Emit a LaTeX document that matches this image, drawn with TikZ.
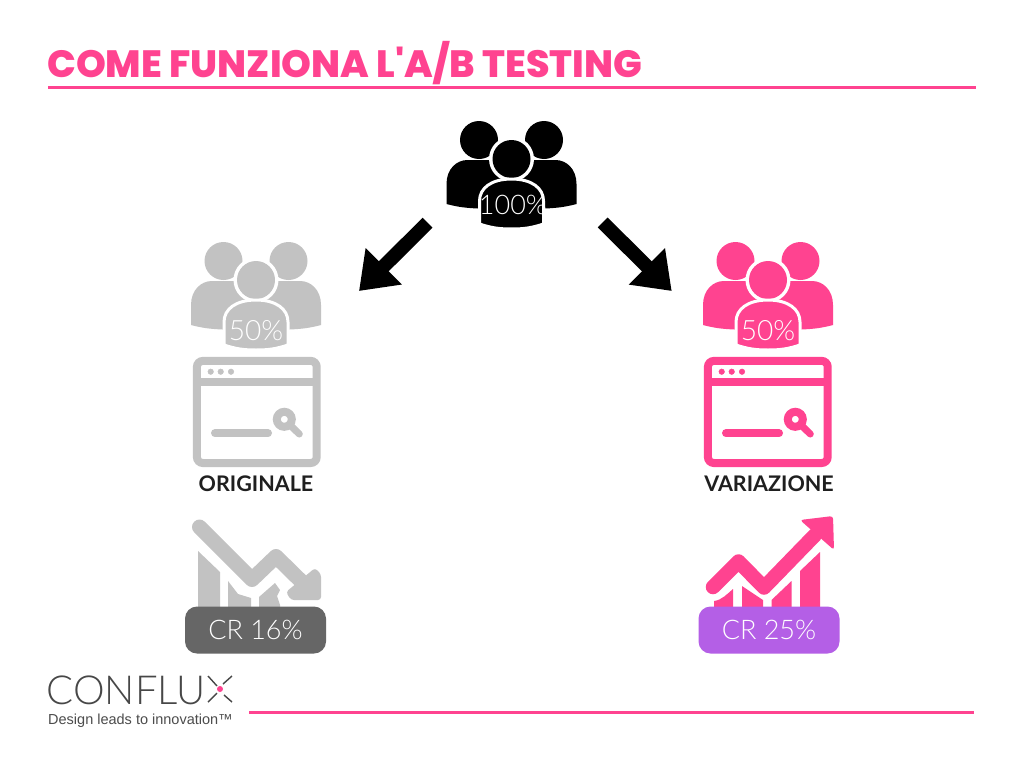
\documentclass[tikz,border=0pt]{standalone}
\usepackage{fontspec}
\setmainfont{Lato}
\newfontfamily\lightf{Lato Light}
\newfontfamily\titlef{Poppins ExtraBold}
\newfontfamily\tagf{Liberation Sans}
\usetikzlibrary{arrows.meta}
\definecolor{cpink}{HTML}{FF4390}
\definecolor{cgray}{HTML}{C2C2C2}
\definecolor{cdark}{HTML}{666666}
\definecolor{cviolet}{HTML}{B45FE6}
\tikzset{
 rule/.style={draw=cpink,line width=3pt},
 bigarrow/.style={line width=14pt,black,-{Triangle[length=35pt,width=49pt]}},
 pctlabel/.style={text=white,font=\lightf\fontsize{28}{28}\selectfont,inner sep=0pt},
 crbadge/.style={rounded corners=12pt,minimum width=141pt,minimum height=47pt,text=white,inner sep=0pt,font=\lightf\fontsize{27}{27}\selectfont},
 caption/.style={text=black!88,inner sep=0pt,font=\bfseries\fontsize{21.5}{21.5}\selectfont},
 peopleicon/.pic={
  \fill[pic actions] (-32.5,-19) circle (19);
  \fill[pic actions] (32.5,-19) circle (19);
  \fill[pic actions] (-65,45) -- (-65,25) .. controls (-65,10) and (-55,1) .. (-44,1) -- (44,1) .. controls (55,1) and (65,10) .. (65,25) -- (65,45) .. controls (50,49) and (40,50) .. (0,50) .. controls (-40,50) and (-50,49) .. (-65,45) -- cycle;
  \fill[white] (0,0) circle (22.5);
  \fill[pic actions] (0,0) circle (19);
  \path[draw=white,line width=3pt,fill,pic actions,draw=white] (-32,65) -- (-32,42) .. controls (-32,29) and (-20,20) .. (0,20) .. controls (20,20) and (32,29) .. (32,42) -- (32,65) .. controls (20,69) and (12,70) .. (0,70) .. controls (-12,70) and (-20,69) .. (-32,65) -- cycle;
 },
 browsericon/.pic={
  \path[pic actions,fill=none,line width=8pt,rounded corners=6pt] (4.2,4.2) rectangle (124,106.3);
  \path[pic actions,fill=none,line width=8pt] (4.2,25.3) -- (124,25.3);
  \fill[pic actions] (18,15) circle (2.8) (28,15) circle (2.8) (38.3,15) circle (2.8);
  \path[pic actions,fill=none,line width=8pt,line cap=round] (22.3,76.5) -- (75.3,76.5);
  \path[pic actions,fill=none,line width=8pt] (91.6,62.6) circle (7.5);
  \path[pic actions,fill=none,line width=7pt,line cap=round] (98,69) -- (106.6,77.3);
 },
}
\begin{document}
\begin{tikzpicture}[x=1pt,y=-1pt]
\useasboundingbox (0,0) rectangle (1024,768);
\fill[white] (0,0) rectangle (1024,768);
% title
\node[anchor=west,inner sep=0pt,text=cpink,font=\titlef\fontsize{38}{38}\selectfont] (title) at (47,63) {COME FUNZIONA L'A/B TESTING};
\coordinate (r1a) at (48,87.5); \coordinate (r1b) at (976,87.5);
\draw[rule] (r1a) -- (r1b);
% people
\pic[black] at (511.5,159) {peopleicon};
\pic[cgray] at (256,280) {peopleicon};
\pic[cpink] at (768,280) {peopleicon};
\node[pctlabel,font=\lightf\fontsize{27}{27}\selectfont] (p100) at (513,205) {100\%};
\node[pctlabel] (p50l) at (256,331) {50\%};
\node[pctlabel] (p50r) at (768,331) {50\%};
% arrows
\coordinate (a1s) at (427.5,222.7); \coordinate (a1e) at (359,291);
\coordinate (a2s) at (602.7,222.5); \coordinate (a2e) at (671.7,291);
\draw[bigarrow] (a1s) -- (a1e);
\draw[bigarrow] (a2s) -- (a2e);
% browsers
\pic[draw=cgray,fill=cgray] at (192.7,356.7) {browsericon};
\pic[draw=cpink,fill=cpink] at (703.7,356.7) {browsericon};
\node[caption] (orig) at (256,484) {ORIGINALE};
\node[caption] (vari) at (769,484) {VARIAZIONE};
% falling chart
\fill[cgray] (198,551) -- (220,572) -- (220,620) -- (198,620) -- cycle;
\fill[cgray] (228,581) -- (238,594) -- (251,598) -- (251,620) -- (228,620) -- cycle;
\fill[cgray] (259,597) -- (275,583) -- (280,590) -- (277,596) -- (280,605) -- (280,620) -- (259,620) -- cycle;
\draw[cgray,line width=15pt,line cap=round,line join=round] (199.5,527) -- (252,579.5) -- (276,556.5) -- (304,584);
\fill[cgray,rounded corners=3pt] (315,568) -- (321,574) -- (321,600) -- (291,600) -- (286,592) -- cycle;
% rising chart
\fill[cpink] (714,607) -- (714,601) .. controls (722,600) and (727,594) .. (733,589) -- (733,610) -- cycle;
\fill[cpink] (742,586) -- (763,600) -- (763,610) -- (742,610) -- cycle;
\fill[cpink] (771.5,600) -- (791.5,581) -- (791.5,610) -- (771.5,610) -- cycle;
\fill[cpink] (800,571) -- (820,552) -- (820,610) -- (800,610) -- cycle;
\draw[cpink,line width=14.5pt,line cap=round,line join=round] (713,587) -- (738.5,561.5) -- (764,587.5) -- (815,535);
\fill[cpink,rounded corners=3pt] (800,520) -- (833,516) -- (834,550) -- cycle;
% badges
\node[crbadge,fill=cdark] (cr1) at (255.5,630) {\raisebox{-1pt}{CR 16\%}};
\node[crbadge,fill=cviolet] (cr2) at (769,630) {\raisebox{-1pt}{CR 25\%}};
% logo
\node[anchor=west,inner sep=0pt,text=black!72,font=\lightf\fontsize{40}{40}\selectfont] (logo) at (46.5,690) {CONFLU};
\draw[black!72,line width=1.4pt] (208,676) -- (217,686) (232,676) -- (223,684) (208,702) -- (217,693) (232,702) -- (224,695);
\fill[cpink] (220,689) circle (3);
\node[anchor=west,inner sep=0pt,text=black!70,font=\tagf\fontsize{14.5}{14.5}\selectfont] (tag) at (48,721) {Design leads to innovation™};
\coordinate (r2a) at (249,712.5); \coordinate (r2b) at (974,712.5);
\draw[rule] (r2a) -- (r2b);
\end{tikzpicture}
\end{document}
